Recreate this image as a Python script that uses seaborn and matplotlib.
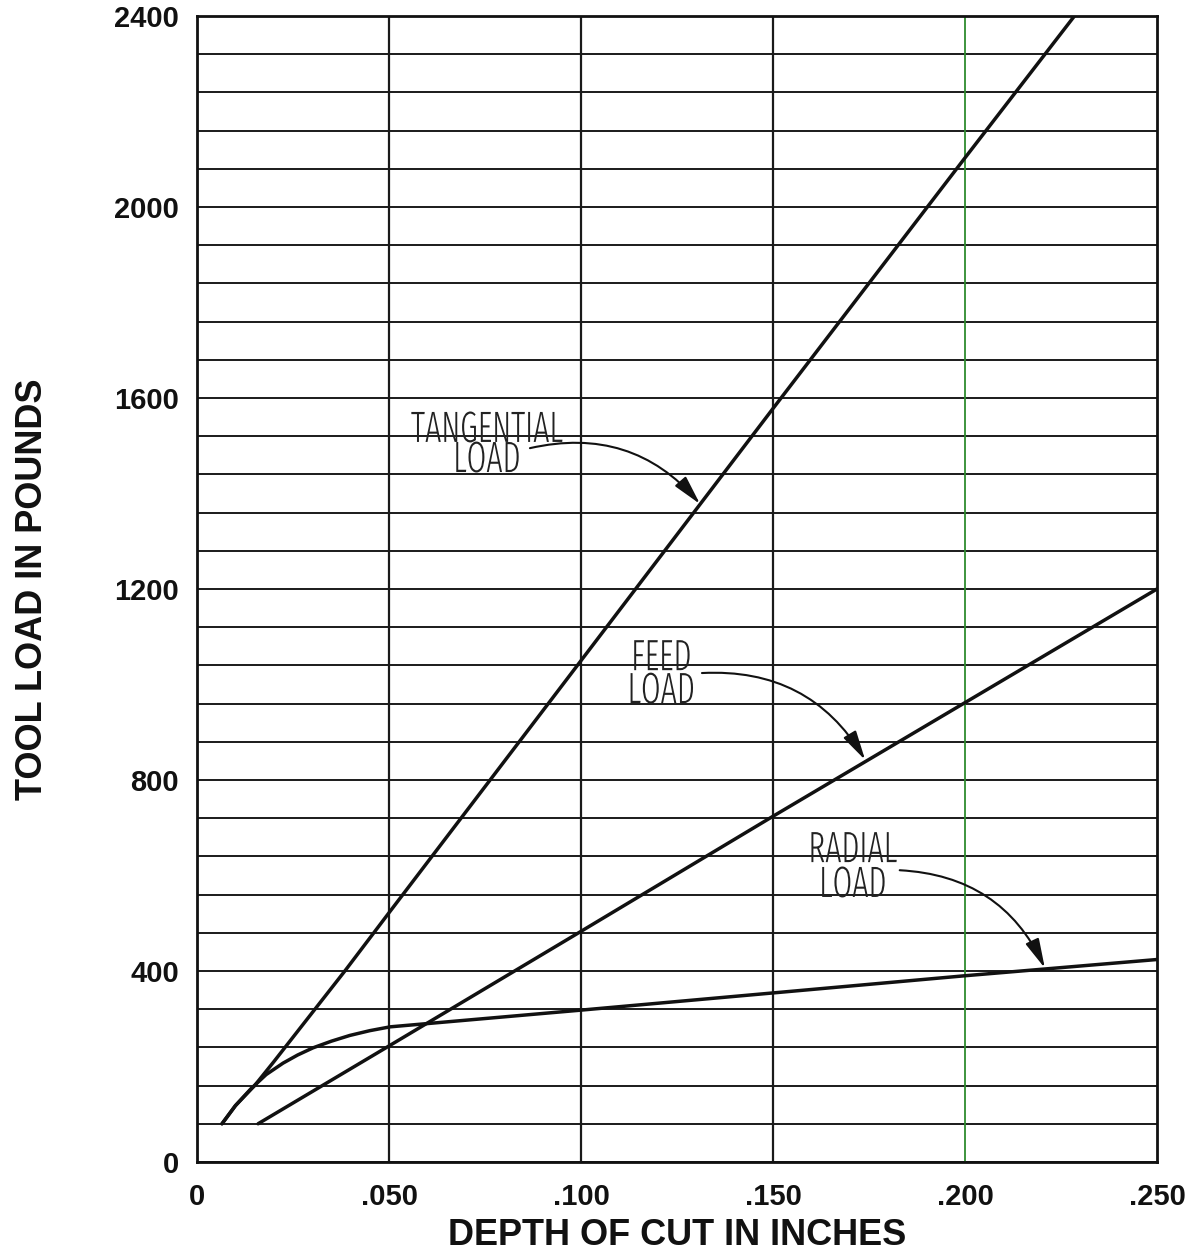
import os
import numpy as np
import pandas as pd
import matplotlib
matplotlib.use("Agg")
import matplotlib.pyplot as plt
from matplotlib.ticker import MultipleLocator, FixedLocator
from matplotlib import font_manager
from matplotlib.font_manager import FontProperties
from matplotlib.patheffects import AbstractPathEffect
from matplotlib.textpath import TextPath
from matplotlib.transforms import Affine2D
import seaborn as sns

# Tool load vs. depth of cut (inches -> pounds)
tangential_depth = [0.0065, 0.010, 0.015, 0.020, 0.0385, 0.050, 0.100, 0.150, 0.200, 0.2285]
tangential_load = [80, 118, 160, 210, 400, 522, 1050, 1578, 2103, 2400]

feed_depth = [0.0159, 0.050, 0.100, 0.150, 0.200, 0.250]
feed_load = [80, 243, 483, 724, 962, 1200]

radial_depth = [0.0065, 0.010, 0.0140, 0.0180, 0.0224, 0.0262, 0.0302, 0.0350,
                0.0398, 0.0450, 0.0503, 0.100, 0.150, 0.200, 0.250]
radial_load = [80, 118, 153, 183, 207, 224, 239, 253, 265, 275, 283, 318, 354, 390, 424]

x_ticks = [0, 0.05, 0.10, 0.15, 0.20, 0.25]
x_tick_labels = ["0", ".050", ".100", ".150", ".200", ".250"]
y_ticks = [0, 400, 800, 1200, 1600, 2000, 2400]
y_tick_labels = ["0", "400", "800", "1200", "1600", "2000", "2400"]

series = pd.concat([
    pd.DataFrame({"depth": tangential_depth, "load": tangential_load, "curve": "TANGENTIAL"}),
    pd.DataFrame({"depth": feed_depth, "load": feed_load, "curve": "FEED"}),
    pd.DataFrame({"depth": radial_depth, "load": radial_load, "curve": "RADIAL"}),
])

sns.set_theme(style="white")
plt.rcParams["font.family"] = ["Liberation Sans", "DejaVu Sans"]


def condensed_font():
    """Pick a narrow, light sans-serif face for the lettered curve labels."""
    best = None
    for f in font_manager.fontManager.ttflist:
        base = os.path.basename(f.fname)
        narrowish = ("Condensed" in f.name or "Narrow" in f.name
                     or "Condensed" in base or "Narrow" in base
                     or str(f.stretch) in ("condensed", "semi-condensed", "extra-condensed"))
        if not narrowish or "Mono" in f.name or "Serif" in f.name or f.style != "normal":
            continue
        try:
            w = int(f.weight)
        except (TypeError, ValueError):
            w = 400
        score = abs(w - 300)
        if "ExtraCondensed" in base or "Extra Condensed" in f.name:
            score -= 60
        if "SemiCondensed" in base or "Semi Condensed" in f.name:
            score += 60
        if best is None or score < best[0]:
            best = (score, f.fname)
    if best is None:
        return FontProperties(family=["Liberation Sans", "DejaVu Sans"])
    return FontProperties(fname=best[1])


class TallLettering(AbstractPathEffect):
    """Stretch glyphs upward from their baseline, like stencil lettering."""

    def __init__(self, sy):
        super().__init__()
        self.sy = sy

    def draw_path(self, renderer, gc, tpath, affine, rgbFace=None):
        renderer.draw_path(gc, tpath, Affine2D().scale(1.0, self.sy) + affine, rgbFace)


fig = plt.figure(figsize=(11.87, 12.54), dpi=100)
ax = fig.add_axes([0.166, 0.0734, 0.8087, 0.9138])
ax.set_facecolor("white")

ax.set_xlim(0, 0.25)
ax.set_ylim(0, 2400)

# Grid: fine horizontal rules every 80 lb, vertical rules every .050 in
ax.yaxis.set_minor_locator(MultipleLocator(80))
ax.yaxis.set_major_locator(FixedLocator(y_ticks))
ax.xaxis.set_major_locator(FixedLocator(x_ticks))
ax.grid(which="both", axis="y", color="#1a1a1a", lw=1.4, zorder=1)
for xv in x_ticks[1:-1]:
    green = abs(xv - 0.2) < 1e-9
    ax.axvline(xv, color="#2e8b2e" if green else "#1a1a1a",
               lw=1.3 if green else 1.6, zorder=1)

for s in ax.spines.values():
    s.set_color("#111111")
    s.set_linewidth(2.0)

sns.lineplot(data=series, x="depth", y="load", units="curve", estimator=None,
             color="#111111", lw=2.5, sort=False, ax=ax, zorder=3, legend=False)

ax.set_xticklabels(x_tick_labels)
ax.set_yticklabels(y_tick_labels)
ax.tick_params(axis="both", which="major", direction="out", length=10, width=1.6,
               color="#111111", labelsize=21, labelcolor="#111111")
ax.tick_params(axis="y", which="major", pad=3)
ax.tick_params(axis="x", which="major", pad=5)
ax.tick_params(axis="y", which="minor", length=0)
for lab in ax.get_xticklabels() + ax.get_yticklabels():
    lab.set_fontweight("bold")

ax.set_xlabel("DEPTH OF CUT IN INCHES", fontsize=26, fontweight="bold",
              color="#111111", labelpad=5)
ax.set_ylabel("TOOL LOAD IN POUNDS", fontsize=26, fontweight="bold",
              color="#111111", labelpad=46)

# Curve labels: size the face so "TANGENTIAL" spans ~152 px, then stretch to ~30 px caps
label_font = condensed_font()
label_font.set_size(26)
probe = ax.text(0, 0, "TANGENTIAL", fontproperties=label_font)
renderer = fig.canvas.get_renderer()
width_px = probe.get_window_extent(renderer).width
probe.remove()
label_font.set_size(26 * 152.0 / width_px)
cap_px = TextPath((0, 0), "T", prop=label_font).get_extents().height * fig.dpi / 72.0
stretch = TallLettering(30.0 / cap_px)

label_lines = [
    (0.0755, 1508, "TANGENTIAL"), (0.0755, 1445, "LOAD"),
    (0.1209, 1030, "FEED"), (0.1209, 961, "LOAD"),
    (0.1708, 628, "RADIAL"), (0.1708, 555, "LOAD"),
]
for lx, ly, txt in label_lines:
    ax.text(lx, ly, txt, fontproperties=label_font, color="#222222",
            ha="center", va="baseline", zorder=4, path_effects=[stretch])

arrow_kw = dict(arrowstyle="-|>,head_length=0.9,head_width=0.22",
                color="#111111", lw=1.5, mutation_scale=20, shrinkA=0, shrinkB=0)
ax.annotate("", xy=(0.131, 1378), xytext=(0.0867, 1495),
            arrowprops=dict(connectionstyle="arc3,rad=-0.3", **arrow_kw), zorder=4)
ax.annotate("", xy=(0.174, 842), xytext=(0.1315, 1024),
            arrowprops=dict(connectionstyle="arc3,rad=-0.3", **arrow_kw), zorder=4)
ax.annotate("", xy=(0.2208, 406), xytext=(0.183, 611),
            arrowprops=dict(connectionstyle="arc3,rad=-0.3", **arrow_kw), zorder=4)

fig.savefig("out.png", dpi=100, facecolor="white")
